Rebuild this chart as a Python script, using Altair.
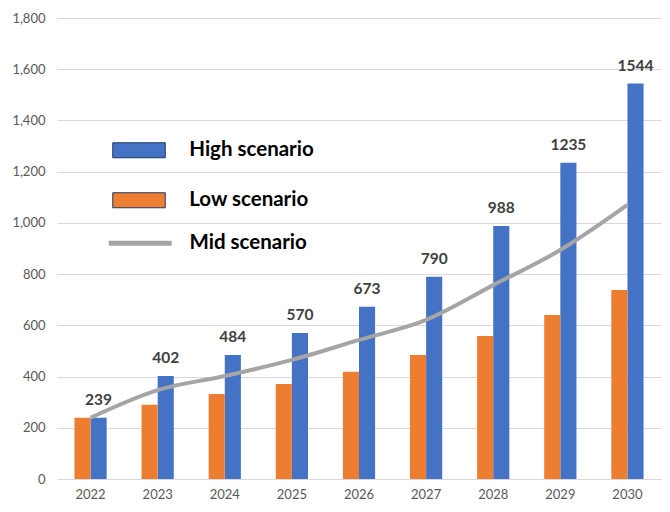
import altair as alt
import pandas as pd

years = ["2022", "2023", "2024", "2025", "2026", "2027", "2028", "2029", "2030"]
high = [239, 402, 484, 570, 673, 790, 988, 1235, 1544]
low = [239, 290, 332, 371, 419, 484, 558, 640, 738]
mid = [239, 347, 402, 465, 543, 621, 757, 894, 1070]

FONT = "Lato"

bars = pd.DataFrame(
    {
        "year": years * 2,
        "series": ["High scenario"] * len(years) + ["Low scenario"] * len(years),
        "value": high + low,
    }
)
labels = pd.DataFrame({"year": years, "series": "High scenario", "value": high})
line = pd.DataFrame({"year": years, "series": "Mid scenario", "value": mid})

x_enc = alt.X(
    "year:N",
    scale=alt.Scale(paddingInner=0.52, paddingOuter=0.26),
    axis=alt.Axis(
        title=None,
        labelAngle=0,
        ticks=False,
        domain=True,
        domainColor="#d9d9d9",
        domainWidth=1,
        labelColor="#595959",
        labelFont=FONT,
        labelFontSize=13,
        labelPadding=9,
        grid=False,
    ),
)
y_enc = alt.Y(
    "value:Q",
    scale=alt.Scale(domain=[0, 1800], nice=False),
    axis=alt.Axis(
        title=None,
        values=list(range(0, 1801, 200)),
        format=",d",
        grid=True,
        gridColor="#d9d9d9",
        domain=False,
        ticks=False,
        labelColor="#595959",
        labelFont=FONT,
        labelFontSize=13,
        labelPadding=12,
    ),
)
x_off = alt.XOffset(
    "series:N", scale=alt.Scale(domain=["Low scenario", "High scenario"])
)

bar_layer = (
    alt.Chart(bars)
    .mark_bar()
    .encode(
        x=x_enc,
        xOffset=x_off,
        y=y_enc,
        color=alt.Color(
            "series:N",
            scale=alt.Scale(
                domain=["High scenario", "Low scenario"],
                range=["#4472C4", "#ED7D31"],
            ),
            legend=alt.Legend(
                title=None,
                orient="none",
                legendX=71.75,
                legendY=122,
                padding=0,
                symbolType="M-3.5,-1H3.5V1H-3.5Z",
                symbolSize=225,
                symbolStrokeColor="#203864",
                symbolStrokeWidth=1,
                symbolOpacity=1,
                labelFont=FONT,
                labelFontSize=20.5,
                labelFontWeight="bold",
                labelColor="#000000",
                labelOffset=40,
                rowPadding=29,
            ),
        ),
    )
)

text_layer = (
    alt.Chart(labels)
    .mark_text(
        dy=-18,
        baseline="middle",
        font=FONT,
        fontSize=15.5,
        fontWeight="bold",
        color="#404040",
    )
    .encode(x=x_enc, xOffset=x_off, y=y_enc, text=alt.Text("value:Q"))
)

line_layer = (
    alt.Chart(line)
    .mark_line(strokeWidth=4, interpolate="monotone")
    .encode(
        x=x_enc,
        y=y_enc,
        stroke=alt.Stroke(
            "series:N",
            scale=alt.Scale(domain=["Mid scenario"], range=["#A5A5A5"]),
            legend=alt.Legend(
                title=None,
                orient="none",
                legendX=73,
                legendY=215,
                padding=0,
                symbolType="M-4.2,0H4.2",
                symbolSize=225,
                symbolStrokeWidth=5,
                labelFont=FONT,
                labelFontSize=20.5,
                labelFontWeight="bold",
                labelColor="#000000",
                labelOffset=39,
            ),
        ),
    )
)

chart = (
    alt.layer(bar_layer, line_layer, text_layer)
    .resolve_scale(color="independent")
    .properties(
        width=604,
        height=461,
        autosize=alt.AutoSizeParams(type="none"),
        padding={"left": 49, "top": 10, "right": 1, "bottom": 25},
        background="white",
    )
    .configure_view(stroke=None)
)

chart.save("out.html", embed_options={"renderer": "svg", "actions": False})
